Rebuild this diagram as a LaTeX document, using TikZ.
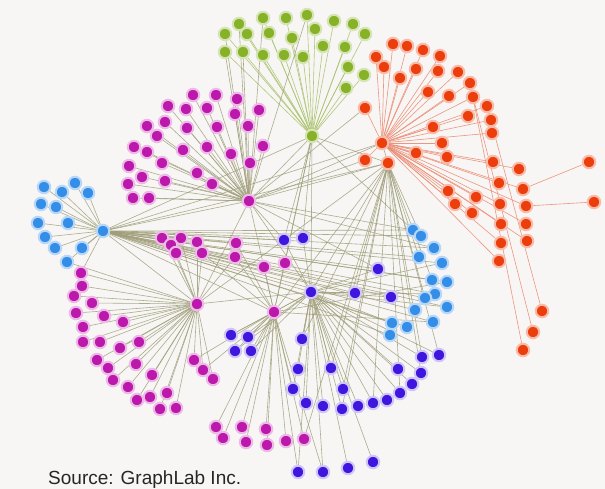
\documentclass[tikz,border=0pt]{standalone}
\usepackage{fontspec}
\newfontfamily\sourcefont{Liberation Sans}
\definecolor{netgreen}{RGB}{135,178,40}
\definecolor{netorange}{RGB}{236,62,12}
\definecolor{netmagenta}{RGB}{188,24,172}
\definecolor{netsky}{RGB}{52,142,232}
\definecolor{netindigo}{RGB}{62,22,222}
\definecolor{linkgrey}{RGB}{160,158,122}
\definecolor{linksalmon}{RGB}{236,140,116}
\definecolor{linkgreen}{RGB}{170,194,110}
\definecolor{paper}{RGB}{247,246,244}

\pgfdeclarelayer{paperlayer}
\pgfdeclarelayer{linklayer}
\pgfsetlayers{paperlayer,linklayer,main}

\tikzset{
  vertex/.style={circle, inner sep=0pt, minimum size=12.5pt, line width=2pt},
  greenvertex/.style={vertex, fill=netgreen, draw=netgreen!35},
  orangevertex/.style={vertex, fill=netorange, draw=netorange!35},
  magentavertex/.style={vertex, fill=netmagenta, draw=netmagenta!30},
  skyvertex/.style={vertex, fill=netsky, draw=netsky!35},
  indigovertex/.style={vertex, fill=netindigo, draw=netindigo!25},
  link/.style={draw=linkgrey, line width=0.6pt, opacity=0.85},
  salmonlink/.style={draw=linksalmon, line width=0.6pt, opacity=0.9},
  greenlink/.style={draw=linkgreen, line width=0.6pt, opacity=0.9}
}

\begin{document}
\begin{tikzpicture}[x=1pt,y=-1pt]

% Each community is specified as:
% \community{prefix}{vertex style}{hub}{link style}{x/y list}
\newcommand{\community}[5]{%
  \foreach \px/\py [count=\k] in {#5}{
    \node[#2] (#1\k) at (\px,\py) {};
    \begin{pgfonlayer}{linklayer}
      \draw[#4] (#1\k) -- (#3);
    \end{pgfonlayer}
  }
}

\begin{pgfonlayer}{paperlayer}
  \fill[paper] (0,0) rectangle (605,489);
\end{pgfonlayer}
\useasboundingbox (0,0) rectangle (605,489);

% Hubs.
\node[greenvertex] (ghub) at (312,136) {};
\node[orangevertex] (ohub) at (382,143) {};
\node[orangevertex] (oxhub) at (388,163) {};
\node[magentavertex] (mhub) at (249,201) {};
\node[magentavertex] (mlhub) at (197,304) {};
\node[magentavertex] (mmhub) at (274,312) {};
\node[skyvertex] (bhub) at (103,231) {};
\node[indigovertex] (dhub) at (311,292) {};

% Communities.
\community{g}{greenvertex}{ghub}{greenlink}{263/18, 286/18, 307/15, 334/21,
  353/24, 365/34, 239/24, 225/34, 247/34, 269/33, 292/38, 315/29, 225/52,
  243/52, 263/55, 284/55, 303/57, 323/46, 345/47, 348/67, 364/75, 346/88}
\community{o}{orangevertex}{ohub}{salmonlink}{393/44, 407/46, 423/50, 440/56,
  376/57, 384/67, 400/78, 416/69, 438/71, 458/72, 470/83, 428/92, 449/96,
  473/97, 487/106, 468/116, 491/120, 492/133, 365/108, 433/127, 442/143,
  447/157, 416/153, 365/160, 493/162, 519/169, 499/183, 523/189, 448/191,
  476/197, 455/204, 500/204, 526/206, 472/213, 501/224, 526/224, 501/243,
  527/241, 499/261}
\community{m}{magentavertex}{mhub}{link}{193/95, 216/95, 237/99, 168/106,
  186/109, 207/108, 235/114, 259/110, 147/126, 165/122, 187/128, 217/127,
  248/126, 157/136, 134/147, 147/152, 183/150, 207/147, 231/154, 263/146,
  250/163, 162/163, 129/166, 142/177, 165/181, 197/173, 212/184, 128/184,
  133/198, 149/198}
\community{bl}{skyvertex}{bhub}{link}{44/187, 62/192, 75/183, 88/193, 41/204,
  56/207, 38/223, 68/223, 45/237, 55/248, 82/248, 67/262}
\community{br}{skyvertex}{bhub}{link}{413/230, 421/236, 434/248, 419/257,
  442/263, 432/280, 447/282, 435/294, 425/298, 415/310, 447/307, 433/322,
  407/327, 392/323, 390/335}
\community{mc}{magentavertex}{mlhub}{link}{162/238, 181/238, 171/245, 176/253,
  197/242, 202/253}
\community{mm}{magentavertex}{mmhub}{link}{236/243, 235/257, 264/267, 285/263}
\community{ml}{magentavertex}{mlhub}{link}{81/273, 82/286, 74/296, 92/303,
  76/313, 104/316, 123/322, 83/327, 83/342, 100/342, 120/348, 139/342,
  97/360, 136/364, 108/368, 152/375, 113/380, 128/387, 167/393, 150/397,
  137/400, 160/409, 176/408, 194/360, 203/370, 213/379}
\community{mb}{magentavertex}{mmhub}{link}{216/427, 223/438, 242/427, 246/442,
  266/429, 267/445, 286/441, 304/439}
\community{d}{indigovertex}{dhub}{link}{284/240, 303/238, 378/269, 355/293,
  391/297, 231/335, 248/337, 235/351, 251/351, 302/339, 298/369, 331/368,
  293/389, 343/389, 306/403, 323/406, 342/409, 358/406, 373/403, 387/400,
  400/393, 412/384, 421/373, 422/357, 439/355, 398/369, 298/472, 323/472,
  348/468, 373/462}

% Far orange vertices.
\node[orangevertex] (of1) at (589,162) {};
\node[orangevertex] (of2) at (594,202) {};
\node[orangevertex] (of3) at (542,311) {};
\node[orangevertex] (of4) at (533,332) {};
\node[orangevertex] (of5) at (523,350) {};

\begin{pgfonlayer}{linklayer}
  \foreach \a/\b in {of1/o28, of2/o33, of3/o15, of4/o14, of5/o11}
    \draw[salmonlink] (\a) -- (\b);

  % Links between communities.
  \foreach \a/\b in {bhub/mhub, bhub/mlhub, bhub/mmhub, bhub/dhub,
      bhub/oxhub, bhub/ohub, bhub/ghub, bhub/d1, bhub/d2, bhub/d3, bhub/d4,
      bhub/d5, bhub/mm1, bhub/mm2, bhub/mm3, bhub/ml1, bhub/mc2, bhub/mc5,
      mhub/ghub, mhub/ohub, mhub/oxhub, mhub/dhub, mhub/mmhub, mhub/mlhub,
      mhub/d1, mhub/d3, mhub/br1, mhub/br3, mhub/o19, mhub/o24, mhub/g1,
      mhub/g3, mhub/g7, mhub/g8, mhub/g13, mhub/g14,
      ghub/dhub, ghub/mmhub, ghub/oxhub, ghub/d1, ghub/d2, ghub/mm4, ghub/br1,
      oxhub/dhub, oxhub/mmhub, oxhub/mlhub, oxhub/d4, oxhub/d10, oxhub/d12,
      oxhub/d14, oxhub/d17, oxhub/d19, oxhub/d21, oxhub/d23, oxhub/d24,
      oxhub/d25, oxhub/br2, oxhub/br4, oxhub/br6, oxhub/br9, oxhub/br13,
      oxhub/mb8, oxhub/ohub,
      dhub/mmhub, dhub/mlhub, dhub/br5, dhub/br8, dhub/br11, dhub/br14,
      mmhub/d6, mmhub/d7, mmhub/d8, mmhub/d9, mmhub/d13, mmhub/d27, mmhub/d28,
      mmhub/ml24, mmhub/ml25, mmhub/br7, mmhub/br12, mmhub/mc6,
      mlhub/bl12, mlhub/mm2}
    \draw[link] (\a) -- (\b);
\end{pgfonlayer}

% Caption.
\node[anchor=base west, inner sep=0pt, text=black!85,
  font=\sourcefont\fontsize{19}{22}\selectfont] (source) at (48,484)
  {Source: GraphLab Inc.};

\end{tikzpicture}
\end{document}
